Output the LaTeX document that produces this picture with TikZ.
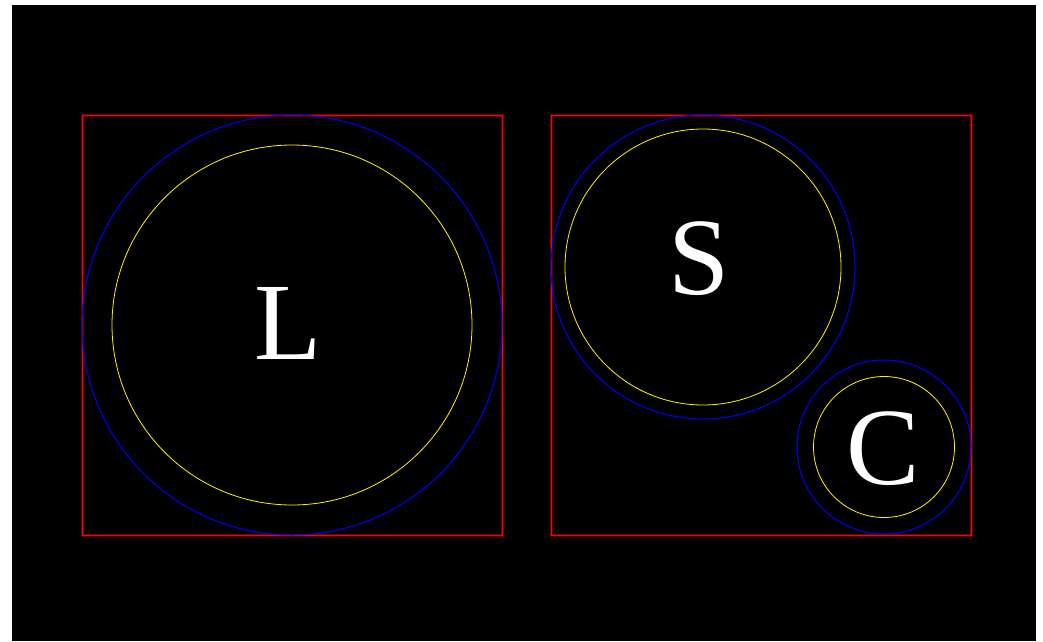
\documentclass[tikz,border=0pt]{standalone}
\usepackage{fontspec}
\setmainfont{Liberation Serif}
\begin{document}
\begin{tikzpicture}[x=1pt,y=-1pt,
  frame/.style={fill=red,even odd rule},
  outer/.style={draw=blue,line width=1pt},
  inner/.style={draw=yellow,line width=0.8pt},
  letter/.style={text=white,inner sep=0pt,font=\fontsize{110}{110}\selectfont}]
\useasboundingbox (0,0) rectangle (1043,641);
\fill[white] (0,0) rectangle (1043,641);
\fill[black] (12,5) rectangle (1036,641);
% left box
\path[frame] (81.6,114.6) rectangle (503.4,536.4) (83.4,116.4) rectangle (501.6,534.6);
\draw[outer] (292,325) circle (210);
\draw[inner] (292,325) circle (180);
\node[letter] (L) at (288,323) {L};
% right box
\path[frame] (550.6,114.6) rectangle (972.4,536.4) (552.4,116.4) rectangle (970.6,534.6);
\draw[outer] (703,267) circle (152);
\draw[inner] (703,267) circle (138);
\node[letter] (S) at (699,259) {S};
\draw[outer] (884,447) circle (87);
\draw[inner] (884,447) circle (70.5);
\node[letter] (C) at (883,449) {C};
\end{tikzpicture}
\end{document}
